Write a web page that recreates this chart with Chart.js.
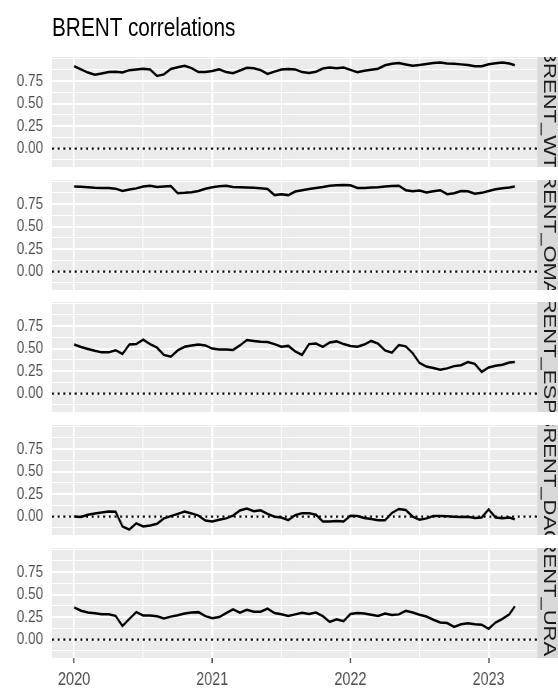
<!DOCTYPE html>
<html>
<head>
<meta charset="utf-8">
<script src="https://cdn.jsdelivr.net/npm/chart.js@4.4.1/dist/chart.umd.min.js"></script>
<style>
  html, body { margin: 0; padding: 0; background: #fff; overflow: hidden; width: 558px; height: 691px; }
  #stage { position: absolute; left: 0; top: 0; width: 698px; height: 691px; transform: scaleX(0.8); transform-origin: 0 0; }
  #title { position: absolute; left: 65px; top: 14px; font: 26px/26px "Liberation Sans", Arial, Helvetica, sans-serif; color: #000; white-space: nowrap; }
  canvas { position: absolute; left: 0; }
</style>
</head>
<body>
<div id="stage"><div id="title">BRENT correlations</div></div>
<script>
// Observation dates as decimal years
const years = [
  2020.00, 2020.05, 2020.10, 2020.15, 2020.20, 2020.25, 2020.30, 2020.35, 2020.40, 2020.45,
  2020.50, 2020.55, 2020.60, 2020.65, 2020.70, 2020.75, 2020.80, 2020.85, 2020.90, 2020.95,
  2021.00, 2021.05, 2021.10, 2021.15, 2021.20, 2021.25, 2021.30, 2021.35, 2021.40, 2021.45,
  2021.50, 2021.55, 2021.60, 2021.65, 2021.70, 2021.75, 2021.80, 2021.85, 2021.90, 2021.95,
  2022.00, 2022.05, 2022.10, 2022.15, 2022.20, 2022.25, 2022.30, 2022.35, 2022.40, 2022.45,
  2022.50, 2022.55, 2022.60, 2022.65, 2022.70, 2022.75, 2022.80, 2022.85, 2022.90, 2022.95,
  2023.00, 2023.05, 2023.10, 2023.15, 2023.19
];

// Rolling correlations of Brent with each crude
const brentWti = [
  0.915, 0.880, 0.845, 0.820, 0.835, 0.852, 0.855, 0.845, 0.872, 0.880,
  0.887, 0.880, 0.808, 0.825, 0.885, 0.905, 0.920, 0.895, 0.850, 0.852,
  0.863, 0.882, 0.850, 0.838, 0.868, 0.898, 0.893, 0.872, 0.830, 0.855,
  0.878, 0.884, 0.880, 0.850, 0.840, 0.855, 0.890, 0.900, 0.892, 0.900,
  0.875, 0.850, 0.865, 0.876, 0.888, 0.926, 0.942, 0.950, 0.935, 0.922,
  0.930, 0.940, 0.952, 0.958, 0.947, 0.944, 0.936, 0.930, 0.915, 0.915,
  0.937, 0.948, 0.957, 0.946, 0.926
];
const brentOman = [
  0.945, 0.942, 0.938, 0.932, 0.930, 0.930, 0.922, 0.895, 0.912, 0.925,
  0.945, 0.953, 0.940, 0.945, 0.950, 0.872, 0.876, 0.883, 0.895, 0.920,
  0.937, 0.948, 0.955, 0.940, 0.938, 0.935, 0.932, 0.925, 0.918, 0.850,
  0.860, 0.850, 0.890, 0.905, 0.918, 0.930, 0.940, 0.955, 0.960, 0.962,
  0.960, 0.930, 0.930, 0.935, 0.938, 0.945, 0.950, 0.955, 0.905, 0.893,
  0.900, 0.878, 0.893, 0.905, 0.860, 0.870, 0.895, 0.893, 0.865, 0.875,
  0.895, 0.915, 0.925, 0.935, 0.945
];
const brentEspo = [
  0.546, 0.517, 0.495, 0.475, 0.458, 0.458, 0.482, 0.440, 0.546, 0.550,
  0.600, 0.550, 0.510, 0.430, 0.410, 0.480, 0.520, 0.535, 0.546, 0.535,
  0.500, 0.490, 0.490, 0.485, 0.535, 0.595, 0.584, 0.575, 0.572, 0.550,
  0.520, 0.530, 0.470, 0.430, 0.550, 0.557, 0.520, 0.568, 0.580, 0.550,
  0.528, 0.520, 0.545, 0.585, 0.555, 0.480, 0.455, 0.540, 0.525, 0.450,
  0.340, 0.300, 0.285, 0.265, 0.280, 0.305, 0.315, 0.350, 0.330, 0.240,
  0.290, 0.310, 0.320, 0.345, 0.350
];
const brentDaq = [
  0.000, -0.005, 0.020, 0.035, 0.045, 0.056, 0.054, -0.110, -0.145, -0.075,
  -0.110, -0.100, -0.080, -0.020, 0.005, 0.030, 0.056, 0.035, 0.010, -0.045,
  -0.055, -0.035, -0.020, 0.010, 0.068, 0.090, 0.060, 0.070, 0.030, -0.002,
  -0.010, -0.040, 0.015, 0.038, 0.038, 0.020, -0.056, -0.056, -0.050, -0.055,
  0.010, 0.005, -0.015, -0.028, -0.042, -0.040, 0.040, 0.085, 0.074, 0.000,
  -0.035, -0.020, 0.005, 0.005, 0.003, -0.002, -0.006, -0.002, -0.015, -0.010,
  0.080, -0.010, -0.018, -0.010, -0.030
];
const brentUrals = [
  0.358, 0.320, 0.300, 0.292, 0.282, 0.282, 0.264, 0.150, 0.230, 0.305,
  0.268, 0.267, 0.260, 0.235, 0.255, 0.270, 0.290, 0.300, 0.305, 0.260,
  0.236, 0.250, 0.295, 0.335, 0.300, 0.330, 0.310, 0.310, 0.345, 0.295,
  0.282, 0.262, 0.280, 0.298, 0.285, 0.300, 0.260, 0.196, 0.226, 0.205,
  0.285, 0.294, 0.290, 0.275, 0.262, 0.290, 0.272, 0.280, 0.320, 0.300,
  0.275, 0.256, 0.220, 0.190, 0.183, 0.140, 0.170, 0.180, 0.170, 0.165,
  0.120, 0.190, 0.230, 0.280, 0.370
];

const panelNames = ['BRENT_WTI', 'BRENT_OMAN', 'BRENT_ESPO', 'BRENT_DAQ', 'BRENT_URALS'];
const panelValues = [brentWti, brentOman, brentEspo, brentDaq, brentUrals];

// Axis breaks and limits
const xMajorTicks = [2020, 2021, 2022, 2023];
const xMinorTicks = [2020.5, 2021.5, 2022.5];
const yMajorTicks = [0, 0.25, 0.5, 0.75];
const yMinorTicks = [-0.125, 0.125, 0.375, 0.625, 0.875, 1.0];
const xLimits = [2019.84, 2023.35];
const yLimits = [-0.205, 1.018];
const referenceLevel = 0;

// Layout (in the unscaled stage coordinates)
const FONT = '"Liberation Sans", Arial, Helvetica, sans-serif';
const STAGE_W = 698;
const PANEL_H = 110;
const AXIS_H = 33;
const panelTops = [57, 180, 302, 425, 548];
const plotLeft = 65;
const plotRight = 671.25;

const panelBackground = {
  id: 'panelBackground',
  beforeDraw(chart) {
    const { ctx, chartArea: a } = chart;
    ctx.save();
    ctx.fillStyle = '#EBEBEB';
    ctx.fillRect(a.left, a.top, a.right - a.left, a.bottom - a.top);
    ctx.restore();
  }
};

const facetStrip = {
  id: 'facetStrip',
  afterDraw(chart, args, opts) {
    const { ctx, chartArea: a } = chart;
    const x0 = a.right;
    const w = chart.width - a.right;
    const h = a.bottom - a.top;
    ctx.save();
    ctx.beginPath();
    ctx.rect(x0, a.top, w, h);
    ctx.clip();
    ctx.fillStyle = '#D9D9D9';
    ctx.fillRect(x0, a.top, w, h);
    ctx.translate(x0 + 9, a.top + h / 2);
    ctx.rotate(Math.PI / 2);
    ctx.fillStyle = '#1A1A1A';
    ctx.font = '22px ' + FONT;
    ctx.textAlign = 'center';
    ctx.textBaseline = 'alphabetic';
    ctx.fillText(opts.label, 0, 0);
    ctx.restore();
  }
};

const stage = document.getElementById('stage');

panelNames.forEach((name, k) => {
  const isLast = k === panelNames.length - 1;
  const canvas = document.createElement('canvas');
  const h = PANEL_H + (isLast ? AXIS_H : 0);
  canvas.width = STAGE_W;
  canvas.height = h;
  canvas.style.width = STAGE_W + 'px';
  canvas.style.height = h + 'px';
  canvas.style.top = panelTops[k] + 'px';
  stage.appendChild(canvas);

  const values = panelValues[k];
  const series = years.map((t, i) => ({ x: t, y: values[i] }));
  const zeroLine = xLimits.map(x => ({ x: x, y: referenceLevel }));

  new Chart(canvas, {
    type: 'line',
    data: {
      datasets: [
        {
          data: zeroLine,
          borderColor: '#000000',
          borderWidth: 2.2,
          borderDash: [2.5, 4.6],
          pointRadius: 0
        },
        {
          data: series,
          borderColor: '#000000',
          borderWidth: 2.5,
          pointRadius: 0,
          tension: 0
        }
      ]
    },
    options: {
      responsive: false,
      animation: false,
      devicePixelRatio: 1,
      events: [],
      layout: { padding: { left: 0, right: STAGE_W - plotRight, top: 0, bottom: 0 }, autoPadding: false },
      plugins: {
        legend: { display: false },
        tooltip: { enabled: false },
        facetStrip: { label: name }
      },
      scales: {
        x: {
          type: 'linear',
          min: xLimits[0],
          max: xLimits[1],
          afterBuildTicks: s => { s.ticks = xMajorTicks.concat(xMinorTicks).sort((a, b) => a - b).map(v => ({ value: v })); },
          afterFit: s => { s.height = isLast ? AXIS_H : 0; s.paddingLeft = 0; s.paddingRight = 0; },
          border: { display: false },
          grid: {
            color: '#FFFFFF',
            lineWidth: c => (xMajorTicks.includes(c.tick.value) ? 2.4 : 1.3),
            drawTicks: isLast,
            tickLength: 5,
            tickWidth: 1.5,
            tickColor: c => (xMajorTicks.includes(c.tick.value) ? '#333333' : 'rgba(0,0,0,0)')
          },
          ticks: {
            display: isLast,
            autoSkip: false,
            maxRotation: 0,
            padding: 6,
            color: '#4D4D4D',
            font: { family: FONT, size: 18 },
            callback: v => (xMajorTicks.includes(v) ? String(v) : '')
          }
        },
        y: {
          type: 'linear',
          min: yLimits[0],
          max: yLimits[1],
          afterBuildTicks: s => { s.ticks = yMajorTicks.concat(yMinorTicks).sort((a, b) => a - b).map(v => ({ value: v })); },
          afterFit: s => { s.width = plotLeft; s.paddingTop = 0; s.paddingBottom = 0; },
          border: { display: false },
          grid: {
            color: '#FFFFFF',
            lineWidth: c => (yMajorTicks.includes(c.tick.value) ? 2 : 1),
            drawTicks: false
          },
          ticks: {
            autoSkip: false,
            padding: 11,
            color: '#4D4D4D',
            font: { family: FONT, size: 17 },
            callback: v => (yMajorTicks.includes(v) ? v.toFixed(2) : '')
          }
        }
      }
    },
    plugins: [panelBackground, facetStrip]
  });
});
</script>
</body>
</html>
